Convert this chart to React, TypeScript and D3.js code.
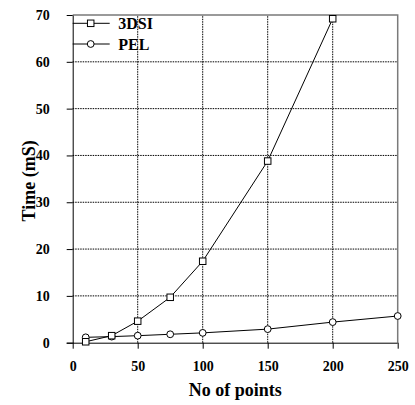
import { useEffect, useRef } from 'react';
import * as d3 from 'd3';

const xPoints3dsi = [10, 30, 50, 75, 100, 150, 200];
const time3dsi = [0.2, 1.5, 4.6, 9.7, 17.4, 38.8, 69.2];
const xPointsPel = [10, 30, 50, 75, 100, 150, 200, 250];
const timePel = [1.15, 1.3, 1.5, 1.8, 2.1, 2.9, 4.4, 5.7];
const xTicks = [0, 50, 100, 150, 200, 250];
const yTicks = [0, 10, 20, 30, 40, 50, 60, 70];
const seriesNames = ['3DSI', 'PEL'];

const FONT = "'Liberation Serif', 'Times New Roman', Times, serif";

export default function App() {
  const svgRef = useRef<SVGSVGElement>(null);

  useEffect(() => {
    const svg = d3.select(svgRef.current);
    if (!svg.node()) return;
    svg.selectAll('*').remove();

    const width = 415;
    const height = 405;
    const margin = { top: 15, right: 17.3, bottom: 62.3, left: 72.7 };

    const x = d3.scaleLinear().domain([0, 250]).range([margin.left, width - margin.right]);
    const y = d3.scaleLinear().domain([0, 70]).range([height - margin.bottom, margin.top]);

    const g = svg.append('g').style('font-family', FONT).style('font-weight', 'bold');

    // dotted grid
    g.selectAll('line.vgrid')
      .data(xTicks.filter((v) => v > 0 && v < 250))
      .join('line')
      .attr('x1', (d) => x(d))
      .attr('x2', (d) => x(d))
      .attr('y1', y(0))
      .attr('y2', y(70))
      .attr('stroke', '#000')
      .attr('stroke-width', 1)
      .attr('stroke-dasharray', '1.5 1');

    g.selectAll('line.hgrid')
      .data(yTicks.filter((v) => v > 0 && v < 70))
      .join('line')
      .attr('x1', x(0))
      .attr('x2', x(250))
      .attr('y1', (d) => y(d))
      .attr('y2', (d) => y(d))
      .attr('stroke', '#000')
      .attr('stroke-width', 1)
      .attr('stroke-dasharray', '1.5 1');

    // top + right frame (grey)
    g.append('path')
      .attr('d', `M${x(0)},${y(70)}H${x(250)}V${y(0)}`)
      .attr('fill', 'none')
      .attr('stroke', '#7a7a7a')
      .attr('stroke-width', 1.5);

    const axisStyle = (sel: d3.Selection<SVGGElement, unknown, null, undefined>) => {
      sel.attr('font-family', null).attr('font-size', null);
      sel.select('.domain').attr('stroke', '#000');
      sel.selectAll('.tick line').attr('stroke', '#000');
      sel
        .selectAll('text')
        .style('font-family', FONT)
        .style('font-weight', 'bold')
        .style('font-size', '14px')
        .attr('fill', '#000');
    };

    g.append('g')
      .attr('transform', `translate(0,${y(0)})`)
      .call(d3.axisBottom(x).tickValues(xTicks).tickSize(6).tickSizeOuter(0).tickPadding(12))
      .call((sel) => sel.select('.domain').attr('d', `M${x(0) - 6},0.5H${x(250)}`))
      .call(axisStyle);

    g.append('g')
      .attr('transform', `translate(${x(0)},0)`)
      .call(d3.axisLeft(y).tickValues(yTicks).tickSize(6).tickSizeOuter(0).tickPadding(17))
      .call(axisStyle);

    // series
    const line = d3
      .line<[number, number]>()
      .x((d) => x(d[0]))
      .y((d) => y(d[1]));

    const s1 = xPoints3dsi.map((v, i) => [v, time3dsi[i]] as [number, number]);
    const s2 = xPointsPel.map((v, i) => [v, timePel[i]] as [number, number]);

    g.append('path').attr('d', line(s2)).attr('fill', 'none').attr('stroke', '#000').attr('stroke-width', 1);
    g.append('path').attr('d', line(s1)).attr('fill', 'none').attr('stroke', '#000').attr('stroke-width', 1);

    g.selectAll('circle.pel')
      .data(s2)
      .join('circle')
      .attr('cx', (d) => x(d[0]))
      .attr('cy', (d) => y(d[1]))
      .attr('r', 3.4)
      .attr('fill', '#fff')
      .attr('stroke', '#000');

    const sq = 6.5;
    g.selectAll('rect.dsi')
      .data(s1)
      .join('rect')
      .attr('x', (d) => x(d[0]) - sq / 2)
      .attr('y', (d) => y(d[1]) - sq / 2)
      .attr('width', sq)
      .attr('height', sq)
      .attr('fill', '#fff')
      .attr('stroke', '#000');

    // legend
    const lg = g.append('g');
    seriesNames.forEach((name, i) => {
      const ly = 23.3 + i * 20.7;
      lg.append('line')
        .attr('x1', x(0))
        .attr('x2', x(0) + 37)
        .attr('y1', ly)
        .attr('y2', ly)
        .attr('stroke', '#000');
      if (i === 0) {
        lg.append('rect')
          .attr('x', x(0) + 18 - sq / 2)
          .attr('y', ly - sq / 2)
          .attr('width', sq)
          .attr('height', sq)
          .attr('fill', '#fff')
          .attr('stroke', '#000');
      } else {
        lg.append('circle')
          .attr('cx', x(0) + 18)
          .attr('cy', ly)
          .attr('r', 3.4)
          .attr('fill', '#fff')
          .attr('stroke', '#000');
      }
      lg.append('text')
        .attr('x', x(0) + 45.5)
        .attr('y', ly + 5.5)
        .style('font-size', '16px')
        .text(name);
    });

    // axis titles
    g.append('text')
      .attr('x', (x(0) + x(250)) / 2)
      .attr('y', 396)
      .attr('text-anchor', 'middle')
      .style('font-size', '18px')
      .text('No of points');

    g.append('text')
      .attr('transform', `translate(35,${(y(0) + y(70)) / 2 + 2}) rotate(-90)`)
      .attr('text-anchor', 'middle')
      .style('font-size', '18px')
      .text('Time (mS)');
  }, []);

  return (
    <svg
      ref={svgRef}
      width={415}
      height={405}
      style={{ position: 'absolute', left: 0, top: 0, background: '#fff' }}
    />
  );
}
